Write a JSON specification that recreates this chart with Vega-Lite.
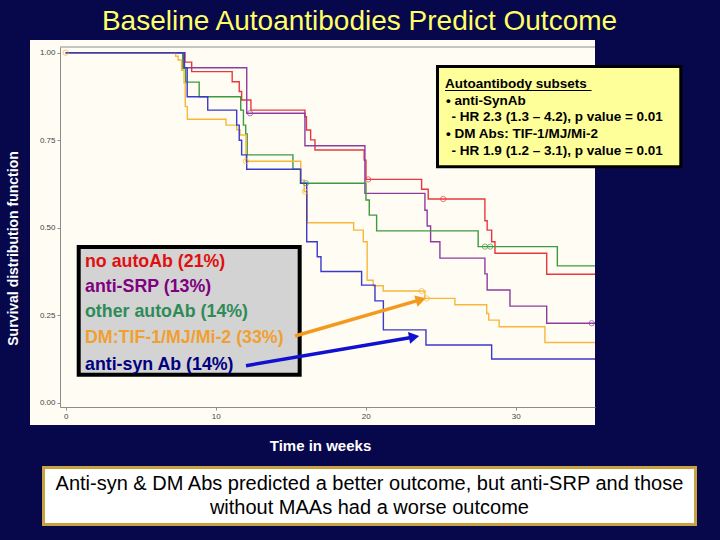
{
  "$schema": "https://vega.github.io/schema/vega-lite/v6.json",
  "width": 535,
  "height": 360,
  "autosize": {"type": "none"},
  "padding": {"left": 60, "top": 47, "right": 125, "bottom": 133},
  "background": "#07074b",
  "title": {"text": "Baseline Autoantibodies Predict Outcome", "color": "#FFFF66", "fontSize": 28, "font": "Liberation Sans", "fontWeight": "normal", "anchor": "middle", "frame": "group", "dx": 32, "offset": 4},
  "config": {"view": {"stroke": null}, "font": "Liberation Sans"},
  "resolve": {"axis": {"x": "independent", "y": "independent"}},
  "datasets": {
    "km": [
      {"group": "no autoAb", "t": 0, "s": 1.0},
      {"group": "no autoAb", "t": 7.95, "s": 0.973},
      {"group": "no autoAb", "t": 8.4, "s": 0.946},
      {"group": "no autoAb", "t": 11.1, "s": 0.917},
      {"group": "no autoAb", "t": 11.57, "s": 0.889},
      {"group": "no autoAb", "t": 11.73, "s": 0.865},
      {"group": "no autoAb", "t": 12.35, "s": 0.836},
      {"group": "no autoAb", "t": 15.95, "s": 0.817},
      {"group": "no autoAb", "t": 16.05, "s": 0.779},
      {"group": "no autoAb", "t": 16.33, "s": 0.751},
      {"group": "no autoAb", "t": 16.62, "s": 0.722},
      {"group": "no autoAb", "t": 19.9, "s": 0.693},
      {"group": "no autoAb", "t": 20.02, "s": 0.638},
      {"group": "no autoAb", "t": 23.73, "s": 0.61},
      {"group": "no autoAb", "t": 24.17, "s": 0.582},
      {"group": "no autoAb", "t": 27.95, "s": 0.52},
      {"group": "no autoAb", "t": 28.1, "s": 0.493},
      {"group": "no autoAb", "t": 28.4, "s": 0.46},
      {"group": "no autoAb", "t": 28.62, "s": 0.427},
      {"group": "no autoAb", "t": 32.07, "s": 0.367},
      {"group": "no autoAb", "t": 35.29, "s": 0.367},
      {"group": "anti-SRP", "t": 0, "s": 1.0},
      {"group": "anti-SRP", "t": 7.86, "s": 0.957},
      {"group": "anti-SRP", "t": 12.07, "s": 0.827},
      {"group": "anti-SRP", "t": 15.95, "s": 0.734},
      {"group": "anti-SRP", "t": 19.95, "s": 0.598},
      {"group": "anti-SRP", "t": 23.95, "s": 0.55},
      {"group": "anti-SRP", "t": 24.1, "s": 0.505},
      {"group": "anti-SRP", "t": 24.33, "s": 0.46},
      {"group": "anti-SRP", "t": 24.95, "s": 0.413},
      {"group": "anti-SRP", "t": 27.95, "s": 0.368},
      {"group": "anti-SRP", "t": 28.1, "s": 0.322},
      {"group": "anti-SRP", "t": 29.62, "s": 0.276},
      {"group": "anti-SRP", "t": 32.07, "s": 0.227},
      {"group": "anti-SRP", "t": 35.29, "s": 0.227},
      {"group": "other autoAb", "t": 0, "s": 1.0},
      {"group": "other autoAb", "t": 7.8, "s": 0.955},
      {"group": "other autoAb", "t": 8.0, "s": 0.916},
      {"group": "other autoAb", "t": 8.9, "s": 0.874},
      {"group": "other autoAb", "t": 11.67, "s": 0.836},
      {"group": "other autoAb", "t": 11.85, "s": 0.793},
      {"group": "other autoAb", "t": 12.0, "s": 0.768},
      {"group": "other autoAb", "t": 12.1, "s": 0.708},
      {"group": "other autoAb", "t": 15.15, "s": 0.667},
      {"group": "other autoAb", "t": 15.65, "s": 0.627},
      {"group": "other autoAb", "t": 20.02, "s": 0.579},
      {"group": "other autoAb", "t": 20.24, "s": 0.536},
      {"group": "other autoAb", "t": 20.73, "s": 0.491},
      {"group": "other autoAb", "t": 27.5, "s": 0.446},
      {"group": "other autoAb", "t": 32.78, "s": 0.391},
      {"group": "other autoAb", "t": 35.29, "s": 0.391},
      {"group": "DM", "t": 0, "s": 1.0},
      {"group": "DM", "t": 7.33, "s": 0.99},
      {"group": "DM", "t": 7.5, "s": 0.979},
      {"group": "DM", "t": 7.73, "s": 0.95},
      {"group": "DM", "t": 7.89, "s": 0.913},
      {"group": "DM", "t": 7.97, "s": 0.846},
      {"group": "DM", "t": 8.11, "s": 0.81},
      {"group": "DM", "t": 10.69, "s": 0.793},
      {"group": "DM", "t": 11.4, "s": 0.78},
      {"group": "DM", "t": 11.62, "s": 0.765},
      {"group": "DM", "t": 12.02, "s": 0.69},
      {"group": "DM", "t": 15.67, "s": 0.636},
      {"group": "DM", "t": 15.9, "s": 0.603},
      {"group": "DM", "t": 16.11, "s": 0.514},
      {"group": "DM", "t": 19.2, "s": 0.493},
      {"group": "DM", "t": 19.84, "s": 0.46},
      {"group": "DM", "t": 20.1, "s": 0.35},
      {"group": "DM", "t": 20.5, "s": 0.334},
      {"group": "DM", "t": 21.17, "s": 0.319},
      {"group": "DM", "t": 23.95, "s": 0.298},
      {"group": "DM", "t": 25.95, "s": 0.28},
      {"group": "DM", "t": 28.07, "s": 0.255},
      {"group": "DM", "t": 28.2, "s": 0.236},
      {"group": "DM", "t": 28.9, "s": 0.217},
      {"group": "DM", "t": 31.95, "s": 0.172},
      {"group": "DM", "t": 35.29, "s": 0.172},
      {"group": "anti-syn", "t": 0, "s": 1.0},
      {"group": "anti-syn", "t": 7.92, "s": 0.957},
      {"group": "anti-syn", "t": 8.1, "s": 0.874},
      {"group": "anti-syn", "t": 9.47, "s": 0.836},
      {"group": "anti-syn", "t": 11.4, "s": 0.793},
      {"group": "anti-syn", "t": 11.57, "s": 0.75},
      {"group": "anti-syn", "t": 11.73, "s": 0.708},
      {"group": "anti-syn", "t": 12.07, "s": 0.667},
      {"group": "anti-syn", "t": 15.67, "s": 0.627},
      {"group": "anti-syn", "t": 16.07, "s": 0.46},
      {"group": "anti-syn", "t": 16.77, "s": 0.417},
      {"group": "anti-syn", "t": 17.02, "s": 0.375},
      {"group": "anti-syn", "t": 19.73, "s": 0.336},
      {"group": "anti-syn", "t": 20.62, "s": 0.291},
      {"group": "anti-syn", "t": 21.18, "s": 0.208},
      {"group": "anti-syn", "t": 24.02, "s": 0.165},
      {"group": "anti-syn", "t": 28.4, "s": 0.125},
      {"group": "anti-syn", "t": 35.29, "s": 0.125}
    ],
    "cens": [
      {"group": "DM", "t": 0, "s": 1.0},
      {"group": "DM", "t": 12.02, "s": 0.69},
      {"group": "DM", "t": 15.95, "s": 0.603},
      {"group": "DM", "t": 23.73, "s": 0.319},
      {"group": "DM", "t": 24.07, "s": 0.298},
      {"group": "anti-SRP", "t": 12.29, "s": 0.827},
      {"group": "anti-SRP", "t": 35.07, "s": 0.227},
      {"group": "no autoAb", "t": 20.17, "s": 0.638},
      {"group": "no autoAb", "t": 25.17, "s": 0.582},
      {"group": "other autoAb", "t": 16.02, "s": 0.627},
      {"group": "other autoAb", "t": 27.95, "s": 0.446},
      {"group": "other autoAb", "t": 28.3, "s": 0.446}
    ],
    "legendtext": [
      {"label": "no autoAb (21%)", "k": 0.4029, "c": "#E01010"},
      {"label": "anti-SRP (13%)", "k": 0.3297, "c": "#800080"},
      {"label": "other autoAb (14%)", "k": 0.26, "c": "#2E8B57"},
      {"label": "DM:TIF-1/MJ/Mi-2 (33%)", "k": 0.1857, "c": "#F0A030"},
      {"label": "anti-syn Ab (14%)", "k": 0.1077, "c": "#000080"}
    ],
    "hrtext": [
      {"label": "Autoantibody subsets", "k": 0.9106, "ind": 25.29},
      {"label": "\u2022 anti-SynAb", "k": 0.8629, "ind": 25.35},
      {"label": "- HR 2.3 (1.3 \u2013 4.2), p value = 0.01", "k": 0.8154, "ind": 25.73},
      {"label": "\u2022 DM Abs: TIF-1/MJ/Mi-2", "k": 0.7677, "ind": 25.35},
      {"label": "- HR 1.9 (1.2 \u2013 3.1), p value = 0.01", "k": 0.72, "ind": 25.73}
    ],
    "arrows": [
      {"a": "DM", "t0": 15.29, "s0": 0.1906, "t1": 23.68, "s1": 0.2943, "c": "#F39A1E", "ang": 344},
      {"a": "syn", "t0": 12.02, "s0": 0.1057, "t1": 23.23, "s1": 0.1877, "c": "#1010D0", "ang": 350}
    ],
    "caption": [
      {"label": "Anti-syn & DM Abs predicted a better outcome, but anti-SRP and those", "k": -0.2323},
      {"label": "without MAAs had a worse outcome", "k": -0.3017}
    ],
    "one": [{"n": 1}]
  },
  "layer": [
    {
      "data": {"name": "one"},
      "mark": {"type": "rect", "color": "#FFFCF4"},
      "encoding": {
        "x": {"datum": -2.38, "type": "quantitative", "scale": {"domain": [-0.38, 35.29], "nice": false, "zero": false}, "axis": null},
        "x2": {"datum": 35.29},
        "y": {"datum": 1.0363, "type": "quantitative", "scale": {"domain": [-0.0123, 1.0163], "nice": false, "zero": false}, "axis": null},
        "y2": {"datum": -0.0637}
      }
    },
    {
      "data": {"name": "one"},
      "mark": {"type": "rule", "color": "#8c8c8c", "strokeWidth": 1},
      "encoding": {
        "x": {"datum": -0.38, "type": "quantitative", "scale": {"domain": [-0.38, 35.29], "nice": false, "zero": false}, "axis": null},
        "x2": {"datum": 35.29},
        "y": {"datum": 1.0163, "type": "quantitative", "scale": {"domain": [-0.0123, 1.0163], "nice": false, "zero": false}, "axis": null}
      }
    },
    {
      "data": {"name": "km"},
      "mark": {"type": "line", "interpolate": "step-after", "strokeWidth": 1.4},
      "encoding": {
        "x": {"field": "t", "type": "quantitative", "scale": {"domain": [-0.38, 35.29], "nice": false, "zero": false},
          "axis": {"values": [0, 10, 20, 30], "grid": false, "zindex": 1, "domainColor": "#8c8c8c", "tickColor": "#8c8c8c", "tickSize": 3, "labelFontSize": 8, "labelColor": "#444444", "labelPadding": 2, "labelFont": "Liberation Sans", "title": "Time in weeks", "titleColor": "#FFFFFF", "titleFontSize": 15, "titleFontWeight": "bold", "titleFont": "Liberation Sans", "titleX": 260, "titleY": 31, "titleBaseline": "top"}},
        "y": {"field": "s", "type": "quantitative", "scale": {"domain": [-0.0123, 1.0163], "nice": false, "zero": false},
          "axis": {"values": [0, 0.25, 0.5, 0.75, 1], "format": ".2f", "grid": false, "zindex": 1, "domainColor": "#8c8c8c", "tickColor": "#8c8c8c", "tickSize": 3, "labelFontSize": 8, "labelColor": "#444444", "labelPadding": 2, "labelFont": "Liberation Sans", "title": "Survival distribution function", "titleColor": "#FFFFFF", "titleFontSize": 14, "titleFontWeight": "bold", "titleFont": "Liberation Sans", "titleX": -40, "titleY": 201}},
        "color": {"field": "group", "type": "nominal", "legend": null, "scale": {"domain": ["no autoAb", "anti-SRP", "other autoAb", "DM", "anti-syn"], "range": ["#E8383D", "#8E3D9E", "#3E9A40", "#F6B73C", "#3A3ACB"]}}
      }
    },
    {
      "data": {"name": "cens"},
      "mark": {"type": "point", "shape": "circle", "filled": false, "size": 28, "strokeWidth": 1},
      "encoding": {
        "x": {"field": "t", "type": "quantitative", "scale": {"domain": [-0.38, 35.29], "nice": false, "zero": false}, "axis": null},
        "y": {"field": "s", "type": "quantitative", "scale": {"domain": [-0.0123, 1.0163], "nice": false, "zero": false}, "axis": null},
        "color": {"field": "group", "type": "nominal", "legend": null, "scale": {"domain": ["no autoAb", "anti-SRP", "other autoAb", "DM", "anti-syn"], "range": ["#E8383D", "#8E3D9E", "#3E9A40", "#F6B73C", "#3A3ACB"]}}
      }
    },
    {
      "data": {"name": "one"},
      "mark": {"type": "rect", "fill": "#D3D3D3", "stroke": "#000000", "strokeWidth": 4},
      "encoding": {
        "x": {"datum": 0.867, "type": "quantitative", "scale": {"domain": [-0.38, 35.29], "nice": false, "zero": false}, "axis": null},
        "x2": {"datum": 15.6},
        "y": {"datum": 0.4449, "type": "quantitative", "scale": {"domain": [-0.0123, 1.0163], "nice": false, "zero": false}, "axis": null},
        "y2": {"datum": 0.08}
      }
    },
    {
      "data": {"name": "legendtext"},
      "mark": {"type": "text", "align": "left", "baseline": "middle", "fontSize": 17.8, "fontWeight": "bold", "font": "Liberation Sans"},
      "encoding": {
        "x": {"datum": 1.287, "type": "quantitative", "scale": {"domain": [-0.38, 35.29], "nice": false, "zero": false}, "axis": null},
        "y": {"field": "k", "type": "quantitative", "scale": {"domain": [-0.0123, 1.0163], "nice": false, "zero": false}, "axis": null},
        "text": {"field": "label", "type": "nominal"},
        "color": {"field": "c", "type": "nominal", "scale": null, "legend": null}
      }
    },
    {
      "data": {"name": "one"},
      "mark": {"type": "rect", "fill": "#FFFF99", "stroke": "#000000", "strokeWidth": 3},
      "encoding": {
        "x": {"datum": 24.79, "type": "quantitative", "scale": {"domain": [-0.38, 35.29], "nice": false, "zero": false}, "axis": null},
        "x2": {"datum": 41.01},
        "y": {"datum": 0.9606, "type": "quantitative", "scale": {"domain": [-0.0123, 1.0163], "nice": false, "zero": false}, "axis": null},
        "y2": {"datum": 0.674}
      }
    },
    {
      "data": {"name": "hrtext"},
      "mark": {"type": "text", "align": "left", "baseline": "middle", "fontSize": 13.5, "fontWeight": "bold", "font": "Liberation Sans", "color": "#000000"},
      "encoding": {
        "x": {"field": "ind", "type": "quantitative", "scale": {"domain": [-0.38, 35.29], "nice": false, "zero": false}, "axis": null},
        "y": {"field": "k", "type": "quantitative", "scale": {"domain": [-0.0123, 1.0163], "nice": false, "zero": false}, "axis": null},
        "text": {"field": "label", "type": "nominal"}
      }
    },
    {
      "data": {"name": "one"},
      "mark": {"type": "rule", "color": "#000000", "strokeWidth": 1},
      "encoding": {
        "x": {"datum": 25.29, "type": "quantitative", "scale": {"domain": [-0.38, 35.29], "nice": false, "zero": false}, "axis": null},
        "x2": {"datum": 35.06},
        "y": {"datum": 0.892, "type": "quantitative", "scale": {"domain": [-0.0123, 1.0163], "nice": false, "zero": false}, "axis": null}
      }
    },
    {
      "data": {"name": "arrows"},
      "mark": {"type": "rule", "strokeWidth": 3.5},
      "encoding": {
        "x": {"field": "t0", "type": "quantitative", "scale": {"domain": [-0.38, 35.29], "nice": false, "zero": false}, "axis": null},
        "x2": {"field": "t1"},
        "y": {"field": "s0", "type": "quantitative", "scale": {"domain": [-0.0123, 1.0163], "nice": false, "zero": false}, "axis": null},
        "y2": {"field": "s1"},
        "color": {"field": "c", "type": "nominal", "scale": null, "legend": null}
      }
    },
    {
      "data": {"name": "arrows"},
      "mark": {"type": "point", "shape": "triangle-right", "filled": true, "size": 140, "opacity": 1},
      "encoding": {
        "x": {"field": "t1", "type": "quantitative", "scale": {"domain": [-0.38, 35.29], "nice": false, "zero": false}, "axis": null},
        "y": {"field": "s1", "type": "quantitative", "scale": {"domain": [-0.0123, 1.0163], "nice": false, "zero": false}, "axis": null},
        "angle": {"field": "ang", "type": "quantitative", "scale": null},
        "color": {"field": "c", "type": "nominal", "scale": null, "legend": null}
      }
    },
    {
      "data": {"name": "one"},
      "mark": {"type": "rect", "fill": "#FFFFFF", "stroke": "#C9A240", "strokeWidth": 3},
      "encoding": {
        "x": {"datum": -1.48, "type": "quantitative", "scale": {"domain": [-0.38, 35.29], "nice": false, "zero": false}, "axis": null},
        "x2": {"datum": 41.99},
        "y": {"datum": -0.1851, "type": "quantitative", "scale": {"domain": [-0.0123, 1.0163], "nice": false, "zero": false}, "axis": null},
        "y2": {"datum": -0.348}
      }
    },
    {
      "data": {"name": "caption"},
      "mark": {"type": "text", "align": "center", "baseline": "middle", "fontSize": 20, "font": "Liberation Sans", "color": "#000000"},
      "encoding": {
        "x": {"datum": 20.25, "type": "quantitative", "scale": {"domain": [-0.38, 35.29], "nice": false, "zero": false}, "axis": null},
        "y": {"field": "k", "type": "quantitative", "scale": {"domain": [-0.0123, 1.0163], "nice": false, "zero": false}, "axis": null},
        "text": {"field": "label", "type": "nominal"}
      }
    }
  ]
}
